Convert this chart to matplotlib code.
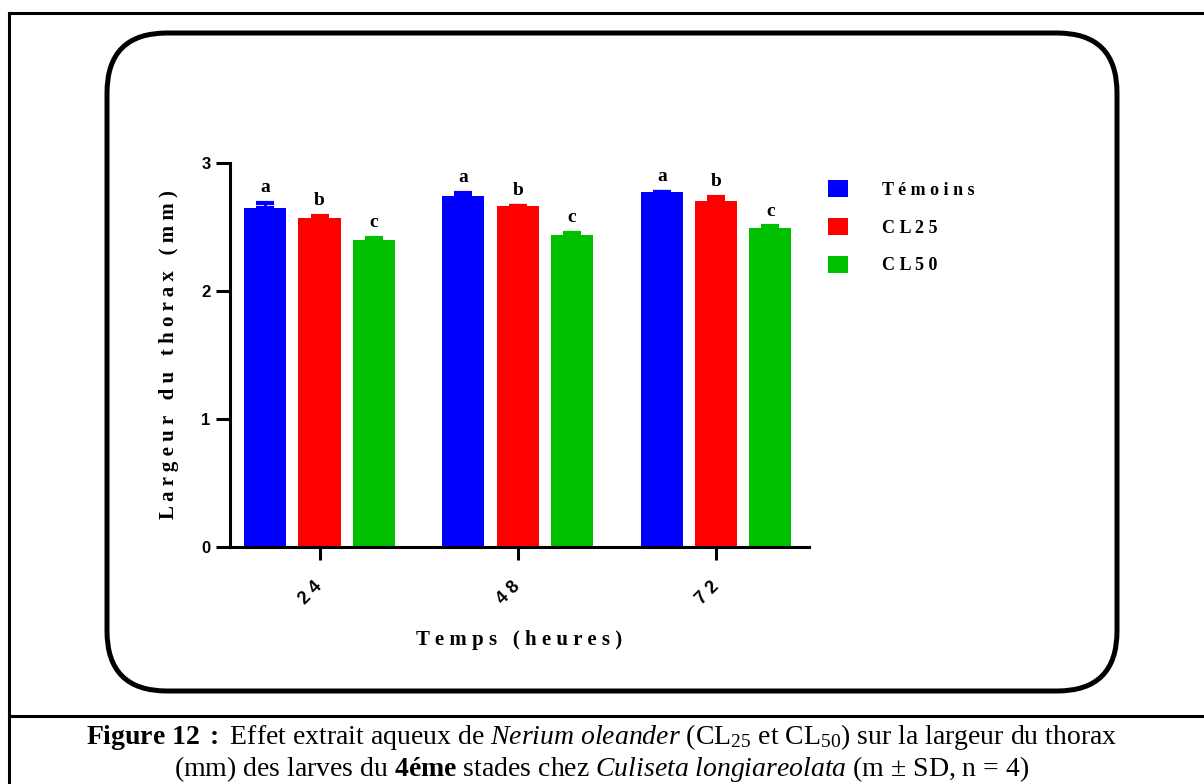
import matplotlib.pyplot as plt
import numpy as np
from matplotlib.patches import FancyBboxPatch
from matplotlib.lines import Line2D
from matplotlib.patches import Patch

plt.rcParams['mathtext.fontset'] = 'custom'
plt.rcParams['mathtext.rm'] = 'Liberation Serif'
plt.rcParams['mathtext.it'] = 'Liberation Serif:italic'
plt.rcParams['mathtext.bf'] = 'Liberation Serif:bold'

# Largeur du thorax (mm) par temps d'exposition
temps = ["24", "48", "72"]
series = ["Témoins", "CL25", "CL50"]
temoins = [2.65, 2.74, 2.77]
cl25 = [2.57, 2.66, 2.70]
cl50 = [2.40, 2.44, 2.49]
sd_temoins = [0.035, 0.023, 0.006]
sd_cl25 = [0.018, 0.006, 0.036]
sd_cl50 = [0.011, 0.013, 0.013]
letters = ["a", "b", "c"]

colors = ["#0000ff", "#ff0000", "#00c000"]
means = [temoins, cl25, cl50]
sds = [sd_temoins, sd_cl25, sd_cl50]


def spaced(s):
    # spread letters like the original GraphPad titles
    return " ".join(s)


fig = plt.figure(figsize=(12.04, 7.84), dpi=100)
ax = fig.add_axes([0.191, 0.3023, 0.481, 0.490])

x = np.arange(len(temps))
width = 0.212
step = 0.274
for i in range(3):
    xi = x + (i - 1) * step
    ax.bar(xi, means[i], width, color=colors[i], zorder=2)
    ax.errorbar(xi, means[i], yerr=[np.zeros(3), sds[i]], fmt="none",
                ecolor=colors[i], elinewidth=2, capsize=6.5, capthick=3, zorder=3)
    for xx, m, s in zip(xi, means[i], sds[i]):
        ax.annotate(letters[i], (xx, m + s), xytext=(0, 5), textcoords="offset points",
                    ha="center", va="bottom", fontsize=14, fontweight="bold",
                    family="Liberation Serif")

ax.set_xlim(-0.4516, 2.469)
ax.set_ylim(0, 3)
ax.set_yticks([0, 1, 2, 3])
ax.set_yticklabels(["0", "1", "2", "3"], fontsize=12, fontweight="bold",
                   family="Liberation Sans")
ax.set_xticks(x)
ax.set_xticklabels([spaced(t) for t in temps], fontsize=13, fontweight="bold",
                   family="Liberation Sans", rotation=45, ha="right", va="center",
                   rotation_mode="anchor")
ax.tick_params(axis="y", length=10, width=2.2, pad=4)
ax.tick_params(axis="x", length=9, width=2.2, pad=18)
for side in ["top", "right"]:
    ax.spines[side].set_visible(False)
for side in ["left", "bottom"]:
    ax.spines[side].set_linewidth(2.2)

ax.set_ylabel("L a r g e u r   d u   t h o r a x   ( m m )", fontsize=15,
              fontweight="bold", family="Liberation Serif", labelpad=16)
ax.set_xlabel("T e m p s   ( h e u r e s )", fontsize=15, fontweight="bold",
              family="Liberation Serif", labelpad=16)

handles = [Patch(facecolor=c, edgecolor="none") for c in colors]
fig.legend(handles, [spaced(s) for s in series], loc="upper left",
           bbox_to_anchor=(0.674, 0.791), frameon=False,
           prop={"family": "Liberation Serif", "weight": "bold", "size": 13},
           handlelength=1.1, handleheight=1.1, handletextpad=1.9, labelspacing=1.05)

# cadre arrondi autour du graphique
frame = FancyBboxPatch((1.07, 0.93), 10.10, 6.58, boxstyle="round,pad=0,rounding_size=0.6",
                       transform=fig.dpi_scale_trans, facecolor="none",
                       edgecolor="black", linewidth=3.6)
fig.patches.append(frame)

# bordure de la page et séparation de la légende
fig.add_artist(Line2D([0.0075, 1.0], [1 - 13 / 784, 1 - 13 / 784], color="black", lw=2.2))
fig.add_artist(Line2D([0.0075, 0.0075], [0.0, 1 - 13 / 784], color="black", lw=2.2))
fig.add_artist(Line2D([0.0075, 1.0], [1 - 716 / 784, 1 - 716 / 784], color="black", lw=2.2))

cap1 = (r"$\mathbf{Figure\ 12\ :}$ Effet extrait aqueux de $\mathit{Nerium\ oleander}$ "
        r"(CL$_{25}$ et CL$_{50}$) sur la largeur du thorax")
cap2 = (r"(mm) des larves du $\mathbf{4éme}$ stades chez $\mathit{Culiseta\ longiareolata}$ "
        r"(m ± SD, n = 4)")
fig.text(0.5, 1 - 737 / 784, cap1, ha="center", va="center", fontsize=20,
         family="Liberation Serif")
fig.text(0.5, 1 - 769 / 784, cap2, ha="center", va="center", fontsize=20,
         family="Liberation Serif")

fig.savefig("out.png", dpi=100)
